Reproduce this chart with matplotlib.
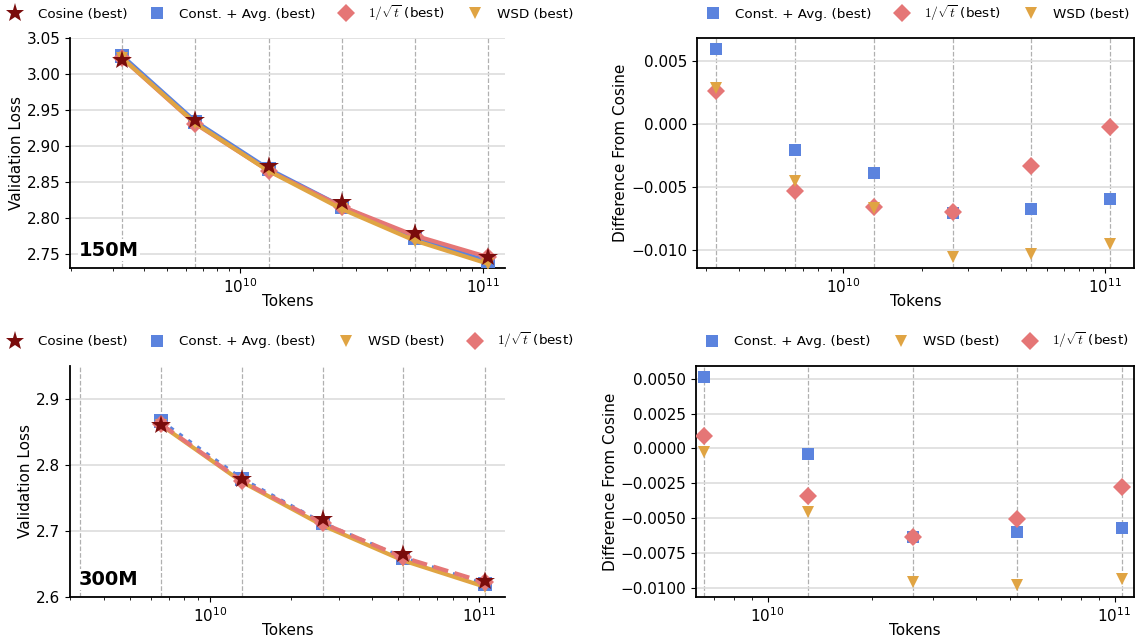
import matplotlib
matplotlib.use("Agg")
import matplotlib.pyplot as plt
from matplotlib.lines import Line2D

plt.rcParams['font.family'] = ['DejaVu Sans']
plt.rcParams['mathtext.fontset'] = 'cm'
plt.rcParams['font.size'] = 11

# token counts (shared x positions, 300M run has no point at the first one)
tokens = [3.27e9, 6.54e9, 1.31e10, 2.62e10, 5.23e10, 1.05e11]
tokens_300 = [6.54e9, 1.31e10, 2.62e10, 5.23e10, 1.05e11]

# 150M validation loss
cos_150 = [3.019, 2.936, 2.872, 2.823, 2.779, 2.746]
avg_150 = [3.025, 2.934, 2.868, 2.816, 2.772, 2.740]
sqrt_150 = [3.0216, 2.9307, 2.8655, 2.8160, 2.7757, 2.7457]
wsd_150 = [3.0219, 2.9315, 2.8653, 2.8125, 2.7687, 2.7365]

# 150M difference from cosine
avg_150_d = [0.00594, -0.00205, -0.00386, -0.00702, -0.00670, -0.00594]
sqrt_150_d = [0.00260, -0.00530, -0.00654, -0.00699, -0.00334, -0.00026]
wsd_150_d = [0.00286, -0.00452, -0.00667, -0.01054, -0.01027, -0.00949]

# 300M validation loss
cos_300 = [2.861, 2.779, 2.718, 2.665, 2.625]
avg_300 = [2.8661, 2.7786, 2.7117, 2.6590, 2.6193]
sqrt_300 = [2.8619, 2.7756, 2.7117, 2.6599, 2.6222]
wsd_300 = [2.8607, 2.7744, 2.7084, 2.6552, 2.6156]

# 300M difference from cosine
avg_300_d = [0.00513, -0.00041, -0.00633, -0.00604, -0.00575]
sqrt_300_d = [0.00088, -0.00339, -0.00633, -0.00506, -0.00279]
wsd_300_d = [-0.00026, -0.00458, -0.00960, -0.00984, -0.00936]

c_cos = '#7a0c0c'
c_avg = '#5b83de'
c_sqrt = '#e57676'
c_wsd = '#e0a443'

lab_cos = 'Cosine (best)'
lab_avg = 'Const. + Avg. (best)'
lab_sqrt = r'$1/\sqrt{t}$ (best)'
lab_wsd = 'WSD (best)'

fig = plt.figure(figsize=(11.36, 6.42), dpi=100)
W, H = 1136, 642


def add_ax(x0, y0, x1, y1):
    return fig.add_axes([x0 / W, 1 - y1 / H, (x1 - x0) / W, (y1 - y0) / H])


ax_tl = add_ax(70, 38, 505, 268)
ax_tr = add_ax(697, 38, 1134, 268)
ax_bl = add_ax(70, 366, 505, 597)
ax_br = add_ax(696, 366, 1134, 597)


def style(ax, box):
    ax.set_xscale('log')
    ax.grid(axis='y', color='#dddddd', lw=1.2)
    ax.set_axisbelow(True)
    for t in tokens:
        ax.axvline(t, color='#b0b0b0', ls='--', lw=0.9, zorder=0.5)
    if not box:
        ax.spines['top'].set_visible(False)
        ax.spines['right'].set_visible(False)
    for s in ax.spines.values():
        s.set_linewidth(1.3)
    ax.set_xlabel('Tokens', fontsize=11, labelpad=-1.5)


def handle(color, marker, ms):
    return Line2D([], [], lw=0, color=color, marker=marker, ms=ms, markeredgewidth=0)


def leg(ax, items, x):
    ax.legend([i[0] for i in items], [i[1] for i in items], loc='center left',
              bbox_to_anchor=(x, 1.11), ncol=4, frameon=False, fontsize=9.7,
              borderaxespad=0, borderpad=0, handlelength=1.5, handletextpad=0.9,
              columnspacing=1.48)


ms = dict(markeredgewidth=0)
h_cos = (handle(c_cos, '*', 14), lab_cos)
h_avg = (handle(c_avg, 's', 9), lab_avg)
h_sqrt = (handle(c_sqrt, 'D', 9), lab_sqrt)
h_wsd = (handle(c_wsd, 'v', 9), lab_wsd)

# top-left: 150M losses
ax = ax_tl
style(ax, False)
ax.plot(tokens, avg_150, color=c_avg, lw=3, marker='s', ms=9.5, zorder=3, **ms)
ax.plot(tokens, sqrt_150, color=c_sqrt, lw=3, marker='D', ms=9, zorder=3, **ms)
ax.plot(tokens, wsd_150, color=c_wsd, lw=3, marker='v', ms=9, zorder=3, **ms)
ax.plot(tokens, cos_150, color=c_cos, lw=0, marker='*', ms=15, zorder=4, **ms)
ax.set_xlim(1.99e9, 1.23e11)
ax.set_ylim(2.7307, 3.05)
ax.set_ylabel('Validation Loss', fontsize=11, labelpad=2)
ax.text(0.021, 0.053, '150M', transform=ax.transAxes, fontsize=14, fontweight='bold',
        bbox=dict(facecolor='white', edgecolor='none', pad=1), zorder=5)
leg(ax, [h_cos, h_avg, h_sqrt, h_wsd], -0.149)

# top-right: 150M differences
ax = ax_tr
style(ax, True)
ax.plot(tokens, avg_150_d, lw=0, color=c_avg, marker='s', ms=8.5, zorder=3, **ms)
ax.plot(tokens, sqrt_150_d, lw=0, color=c_sqrt, marker='D', ms=9, zorder=3, **ms)
ax.plot(tokens, wsd_150_d, lw=0, color=c_wsd, marker='v', ms=8.5, zorder=3, **ms)
ax.set_xlim(2.76e9, 1.294e11)
ax.set_ylim(-0.0114, 0.0068)
ax.set_ylabel('Difference From Cosine', fontsize=11, labelpad=2)
leg(ax, [h_avg, h_sqrt, h_wsd], 0.014)

# bottom-left: 300M losses
ax = ax_bl
style(ax, False)
ax.plot(tokens_300, avg_300, color=c_avg, lw=3, ls=':', marker='s', ms=9.5, zorder=3, **ms)
ax.plot(tokens_300, wsd_300, color=c_wsd, lw=3, marker='v', ms=9, zorder=3, **ms)
ax.plot(tokens_300, sqrt_300, color=c_sqrt, lw=3, ls='--', marker='D', ms=9, zorder=3, **ms)
ax.plot(tokens_300, cos_300, color=c_cos, lw=0, marker='*', ms=15, zorder=4, **ms)
ax.set_xlim(3.0e9, 1.25e11)
ax.set_ylim(2.6, 2.95)
ax.set_ylabel('Validation Loss', fontsize=11, labelpad=2)
ax.text(0.021, 0.052, '300M', transform=ax.transAxes, fontsize=14, fontweight='bold',
        bbox=dict(facecolor='white', edgecolor='none', pad=1), zorder=5)
leg(ax, [h_cos, h_avg, h_wsd, h_sqrt], -0.149)

# bottom-right: 300M differences
ax = ax_br
style(ax, True)
ax.plot(tokens_300, avg_300_d, lw=0, color=c_avg, marker='s', ms=8.5, zorder=3, **ms)
ax.plot(tokens_300, wsd_300_d, lw=0, color=c_wsd, marker='v', ms=8.5, zorder=3, **ms)
ax.plot(tokens_300, sqrt_300_d, lw=0, color=c_sqrt, marker='D', ms=9, zorder=3, **ms)
ax.set_xlim(6.22e9, 1.138e11)
ax.set_ylim(-0.01067, 0.00591)
ax.set_ylabel('Difference From Cosine', fontsize=11, labelpad=2)
leg(ax, [h_avg, h_wsd, h_sqrt], 0.014)

fig.savefig('out.png', dpi=100)
